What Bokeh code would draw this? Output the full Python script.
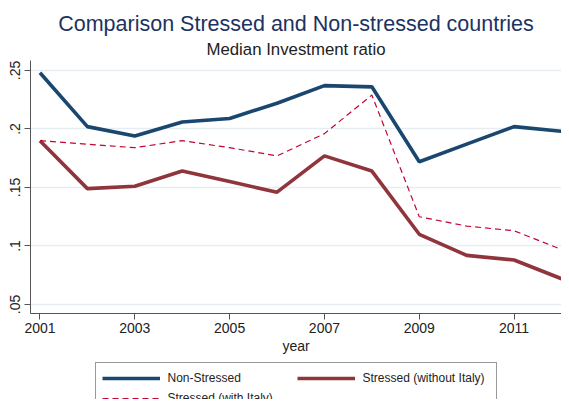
from bokeh.plotting import figure
from bokeh.layouts import column
from bokeh.models import (Range1d, FixedTicker, CustomJSTickFormatter, Legend, LegendItem, Title)
from bokeh.embed import file_html
from bokeh.resources import INLINE

years = [2001, 2002, 2003, 2004, 2005, 2006, 2007, 2008, 2009, 2010, 2011, 2012]
non_stressed = [0.248, 0.202, 0.194, 0.206, 0.209, 0.222, 0.237, 0.236, 0.172, 0.187, 0.202, 0.198]
stressed_wo_italy = [0.190, 0.149, 0.151, 0.164, 0.155, 0.146, 0.177, 0.164, 0.110, 0.092, 0.088, 0.072]
stressed_w_italy = [0.190, 0.187, 0.184, 0.190, 0.184, 0.177, 0.196, 0.229, 0.125, 0.117, 0.113, 0.097]
series_names = ["Non-Stressed", "Stressed (without Italy)", "Stressed (with Italy)"]
x_ticks = [2001, 2003, 2005, 2007, 2009, 2011]
y_ticks = [0.05, 0.10, 0.15, 0.20, 0.25]
title_text = "Comparison Stressed and Non-stressed countries"
subtitle_text = "Median Investment ratio"

FONT = "Liberation Sans"
W = 561
LEFT = 30
styles = [dict(line_color="#1a476f", line_width=3.6),
          dict(line_color="#90353b", line_width=3.6),
          dict(line_color="#c10534", line_width=1.2, line_dash="6 4")]

# --- main plot ---
p = figure(width=W, height=362, output_backend="svg", toolbar_location=None,
           x_range=Range1d(2000.8, 2012.0), y_range=Range1d(0.0423, 0.2585),
           min_border_left=LEFT, min_border_right=0, min_border_top=60, min_border_bottom=49,
           background_fill_color="white", border_fill_color="white")
p.outline_line_color = None

p.add_layout(Title(text=subtitle_text, align="center", text_font=FONT,
                   text_font_size="16.8px", text_font_style="normal", text_color="#222222",
                   standoff=4), "above")
p.add_layout(Title(text=title_text, align="center",
                   text_font=FONT, text_font_size="21.5px", text_font_style="normal",
                   text_color="#1c3260", standoff=0), "above")

for vals, st in zip([non_stressed, stressed_wo_italy, stressed_w_italy], styles):
    p.line(years, vals, **st)

p.xgrid.grid_line_color = None
p.ygrid.grid_line_color = "#e6edf2"
p.ygrid.grid_line_width = 1.5
p.ygrid.ticker = FixedTicker(ticks=y_ticks)

p.xaxis.ticker = FixedTicker(ticks=x_ticks)
p.yaxis.ticker = FixedTicker(ticks=y_ticks)
p.yaxis.formatter = CustomJSTickFormatter(code="return tick.toFixed(2).replace(/0+$/, '').replace(/^0/, '');")
p.yaxis.major_label_orientation = "vertical"
for ax in (p.xaxis, p.yaxis):
    ax.axis_line_color = "#555555"
    ax.major_tick_line_color = "#555555"
    ax.major_tick_out = 6
    ax.major_tick_in = 0
    ax.minor_tick_line_color = None
    ax.major_label_text_font = FONT
    ax.major_label_text_font_size = "14px"
    ax.major_label_text_color = "#222222"
    ax.major_label_standoff = 4
p.xaxis.major_label_standoff = 3
p.xaxis.axis_label = "year"
p.xaxis.axis_label_text_font = FONT
p.xaxis.axis_label_text_font_size = "14px"
p.xaxis.axis_label_text_font_style = "normal"
p.xaxis.axis_label_text_color = "#222222"
p.xaxis.axis_label_standoff = 2

# --- legend strip (series drawn off-range; only legend keys show) ---
lg = figure(width=W, height=37, output_backend="svg", toolbar_location=None,
            x_range=Range1d(0, 1), y_range=Range1d(0, 1),
            x_axis_type=None, y_axis_type=None,
            min_border_left=LEFT, min_border_right=0, min_border_top=0, min_border_bottom=0,
            background_fill_color="white", border_fill_color="white")
lg.outline_line_color = None
lg.xgrid.visible = False
lg.ygrid.visible = False
items = []
for name, vals, st in zip(series_names, [non_stressed, stressed_wo_italy, stressed_w_italy], styles):
    r = lg.line(years, vals, **st)
    items.append(LegendItem(label=name, renderers=[r]))
legend = Legend(items=items, location="top_center", orientation="horizontal", nrows=2,
                label_text_font=FONT, label_text_font_size="12px", label_text_color="#222222",
                glyph_width=58, glyph_height=18, label_height=18, label_width=127,
                label_standoff=8, spacing=2, padding=6, margin=0,
                border_line_color="#333333", border_line_width=1)
lg.add_layout(legend, "center")

layout = column(p, lg, spacing=0)
open("out.html", "w").write(file_html(layout, INLINE))
